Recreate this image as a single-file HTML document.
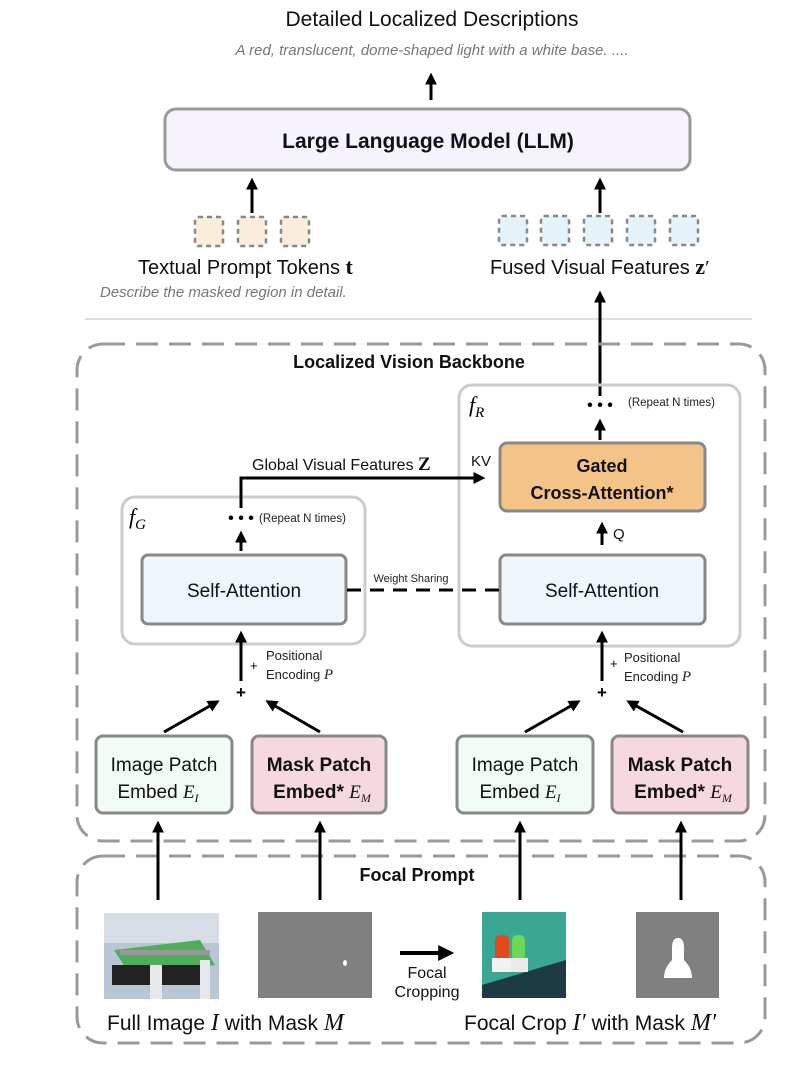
<!DOCTYPE html>
<html><head><meta charset="utf-8"><style>
html,body{margin:0;padding:0;background:#fff;}
svg{display:block;}
text{font-family:"Liberation Sans",sans-serif;}
.ser{font-family:"Liberation Serif",serif;font-style:italic;}
</style></head><body>
<svg width="803" height="1065" viewBox="0 0 803 1065" xmlns="http://www.w3.org/2000/svg">
<defs>
<marker id="ah" markerWidth="4" markerHeight="4" refX="2.2" refY="2" orient="auto" markerUnits="strokeWidth">
<path d="M0,0 L4,2 L0,4 z" fill="#000"/></marker>
</defs>
<rect width="803" height="1065" fill="#fff"/>

<text x="432" y="26" font-size="21" text-anchor="middle" fill="#111">Detailed Localized Descriptions</text>
<text x="432" y="55" font-size="15" font-style="italic" text-anchor="middle" fill="#777">A red, translucent, dome-shaped light with a white base. ....</text>
<line x1="431" y1="100" x2="431" y2="78" stroke="#000" stroke-width="3" marker-end="url(#ah)"/>

<rect x="165" y="109" width="525" height="61" rx="11" fill="#f7f3fd" stroke="#999" stroke-width="3"/>
<text x="428" y="148" font-size="21" font-weight="bold" text-anchor="middle" fill="#111">Large Language Model (LLM)</text>

<line x1="252" y1="213" x2="252" y2="183" stroke="#000" stroke-width="3" marker-end="url(#ah)"/>
<line x1="600" y1="213" x2="600" y2="183" stroke="#000" stroke-width="3" marker-end="url(#ah)"/>

<g stroke="#888" stroke-width="2.5" stroke-dasharray="5 4">
<rect x="195" y="217" width="28" height="29" rx="3" fill="#fbeedd"/>
<rect x="238" y="217" width="28" height="29" rx="3" fill="#fbeedd"/>
<rect x="281" y="217" width="28" height="29" rx="3" fill="#fbeedd"/>
<rect x="499" y="216" width="28" height="29" rx="3" fill="#e6f3fb"/>
<rect x="541" y="216" width="28" height="29" rx="3" fill="#e6f3fb"/>
<rect x="584" y="216" width="28" height="29" rx="3" fill="#e6f3fb"/>
<rect x="627" y="216" width="28" height="29" rx="3" fill="#e6f3fb"/>
<rect x="670" y="216" width="28" height="29" rx="3" fill="#e6f3fb"/>
</g>

<text x="138" y="274" font-size="20" fill="#111">Textual Prompt Tokens <tspan font-family="Liberation Serif" font-weight="bold" font-size="22">t</tspan></text>
<text x="490" y="274" font-size="20" fill="#111">Fused Visual Features <tspan font-family="Liberation Serif" font-weight="bold" font-size="22">z</tspan><tspan font-family="Liberation Serif" font-size="20">′</tspan></text>
<text x="100" y="297" font-size="15" font-style="italic" fill="#777">Describe the masked region in detail.</text>

<line x1="85" y1="319" x2="752" y2="319" stroke="#ddd" stroke-width="2"/>
<line x1="600" y1="396" x2="600" y2="296" stroke="#000" stroke-width="3" marker-end="url(#ah)"/>

<rect x="77" y="344" width="688" height="497" rx="26" fill="none" stroke="#999" stroke-width="3" stroke-dasharray="22 11"/>
<rect x="77" y="856" width="688" height="187" rx="26" fill="none" stroke="#999" stroke-width="3" stroke-dasharray="22 11"/>
<text x="409" y="368" font-size="18" font-weight="bold" text-anchor="middle" fill="#111">Localized Vision Backbone</text>
<text x="417" y="881" font-size="18" font-weight="bold" text-anchor="middle" fill="#111">Focal Prompt</text>

<rect x="459" y="385" width="281" height="261" rx="13" fill="none" stroke="#ccc" stroke-width="3"/>
<rect x="122" y="497" width="243" height="147" rx="13" fill="#fff" stroke="#ccc" stroke-width="3"/>
<text x="469" y="412" font-size="22" class="ser">f<tspan font-size="15" dy="5">R</tspan></text>
<text x="129" y="524" font-size="22" class="ser">f<tspan font-size="15" dy="5">G</tspan></text>

<text x="600" y="410" font-size="16" font-weight="bold" text-anchor="middle">• • •</text>
<text x="628" y="406" font-size="11.5" fill="#222">(Repeat N times)</text>
<line x1="600" y1="440" x2="600" y2="424" stroke="#000" stroke-width="3" marker-end="url(#ah)"/>

<rect x="500" y="443" width="205" height="68" rx="7" fill="#f3c388" stroke="#888" stroke-width="3"/>
<text x="602" y="472" font-size="18" font-weight="bold" text-anchor="middle" fill="#111">Gated</text>
<text x="602" y="499" font-size="18" font-weight="bold" text-anchor="middle" fill="#111">Cross-Attention*</text>

<text x="471" y="466" font-size="15" fill="#111">KV</text>
<polyline points="241,508 241,478 480,478" fill="none" stroke="#000" stroke-width="3" marker-end="url(#ah)"/>
<text x="252" y="470" font-size="16" fill="#111">Global Visual Features <tspan font-family="Liberation Serif" font-weight="bold" font-size="19">Z</tspan></text>

<text x="241" y="523" font-size="16" font-weight="bold" text-anchor="middle">• • •</text>
<text x="259" y="522" font-size="11.5" fill="#222">(Repeat N times)</text>
<line x1="241" y1="551" x2="241" y2="536" stroke="#000" stroke-width="3" marker-end="url(#ah)"/>

<line x1="602" y1="545" x2="602" y2="527" stroke="#000" stroke-width="3" marker-end="url(#ah)"/>
<text x="613" y="539" font-size="15" fill="#111">Q</text>

<rect x="142" y="555" width="204" height="69" rx="6" fill="#eff7fc" stroke="#888" stroke-width="3"/>
<rect x="500" y="555" width="205" height="69" rx="6" fill="#eff7fc" stroke="#888" stroke-width="3"/>
<text x="244" y="597" font-size="19" text-anchor="middle" fill="#111">Self-Attention</text>
<text x="602" y="597" font-size="19" text-anchor="middle" fill="#111">Self-Attention</text>
<line x1="347" y1="590" x2="499" y2="590" stroke="#000" stroke-width="3" stroke-dasharray="14 9"/>
<text x="411" y="582" font-size="11" text-anchor="middle" fill="#222">Weight Sharing</text>

<g>
<line x1="241" y1="681" x2="241" y2="636" stroke="#000" stroke-width="3" marker-end="url(#ah)"/>
<text x="241" y="698" font-size="17" font-weight="bold" text-anchor="middle">+</text>
<text x="250" y="670" font-size="13">+</text>
<text x="266" y="660" font-size="13" fill="#222">Positional</text>
<text x="266" y="679" font-size="13" fill="#222">Encoding <tspan class="ser" font-size="15">P</tspan></text>
<line x1="164" y1="732" x2="215" y2="703" stroke="#000" stroke-width="3" marker-end="url(#ah)"/>
<line x1="320" y1="732" x2="270" y2="703" stroke="#000" stroke-width="3" marker-end="url(#ah)"/>
</g>
<g>
<line x1="602" y1="681" x2="602" y2="636" stroke="#000" stroke-width="3" marker-end="url(#ah)"/>
<text x="602" y="698" font-size="17" font-weight="bold" text-anchor="middle">+</text>
<text x="610" y="668" font-size="13">+</text>
<text x="624" y="662" font-size="13" fill="#222">Positional</text>
<text x="624" y="681" font-size="13" fill="#222">Encoding <tspan class="ser" font-size="15">P</tspan></text>
<line x1="525" y1="732" x2="576" y2="703" stroke="#000" stroke-width="3" marker-end="url(#ah)"/>
<line x1="683" y1="732" x2="631" y2="703" stroke="#000" stroke-width="3" marker-end="url(#ah)"/>
</g>

<rect x="96" y="736" width="136" height="77" rx="7" fill="#f2fbf4" stroke="#888" stroke-width="3"/>
<rect x="252" y="736" width="134" height="77" rx="7" fill="#f6d9de" stroke="#888" stroke-width="3"/>
<rect x="457" y="736" width="136" height="77" rx="7" fill="#f2fbf4" stroke="#888" stroke-width="3"/>
<rect x="612" y="736" width="136" height="77" rx="7" fill="#f6d9de" stroke="#888" stroke-width="3"/>
<g font-size="19" fill="#111" text-anchor="middle">
<text x="164" y="771">Image Patch</text>
<text x="158" y="798">Embed <tspan class="ser">E</tspan><tspan class="ser" font-size="12" dy="4">I</tspan></text>
<text x="319" y="771" font-weight="bold">Mask Patch</text>
<text x="322" y="798" font-weight="bold">Embed* <tspan class="ser" font-weight="normal">E</tspan><tspan class="ser" font-weight="normal" font-size="12" dy="4">M</tspan></text>
<text x="525" y="771">Image Patch</text>
<text x="520" y="798">Embed <tspan class="ser">E</tspan><tspan class="ser" font-size="12" dy="4">I</tspan></text>
<text x="680" y="771" font-weight="bold">Mask Patch</text>
<text x="683" y="798" font-weight="bold">Embed* <tspan class="ser" font-weight="normal">E</tspan><tspan class="ser" font-weight="normal" font-size="12" dy="4">M</tspan></text>
</g>

<g stroke="#000" stroke-width="3">
<line x1="158" y1="900" x2="158" y2="826" marker-end="url(#ah)"/>
<line x1="320" y1="900" x2="320" y2="826" marker-end="url(#ah)"/>
<line x1="520" y1="900" x2="520" y2="826" marker-end="url(#ah)"/>
<line x1="681" y1="900" x2="681" y2="826" marker-end="url(#ah)"/>
</g>

<rect x="104" y="913" width="115" height="86" fill="#b9c6d6"/>
<rect x="104" y="913" width="115" height="30" fill="#d6dde6"/>
<polygon points="114,950 200,940 215,965 130,975" fill="#4fae5a"/>
<rect x="112" y="965" width="95" height="20" fill="#222"/>
<rect x="150" y="965" width="12" height="34" fill="#e6e8ec"/>
<rect x="200" y="960" width="10" height="39" fill="#e6e8ec"/>
<rect x="120" y="950" width="90" height="5" fill="#999"/>
<rect x="258" y="912" width="114" height="86" fill="#808080"/>
<ellipse cx="345" cy="963" rx="2" ry="3" fill="#fff"/>
<rect x="482" y="912" width="84" height="86" fill="#3aa793"/>
<polygon points="482,985 566,960 566,998 482,998" fill="#1d3b44"/>
<rect x="495" y="935" width="14" height="25" rx="5" fill="#e24a1e"/>
<rect x="512" y="935" width="13" height="25" rx="5" fill="#6cd85a"/>
<rect x="492" y="958" width="19" height="14" fill="#f2f2f2"/>
<rect x="511" y="958" width="17" height="14" fill="#eaeaea"/>
<rect x="636" y="912" width="83" height="86" fill="#808080"/>
<path d="M672,948 q0,-10 6,-10 q6,0 6,10 l0,12 q8,8 8,18 l-28,0 q0,-10 8,-18 z" fill="#fff"/>

<line x1="400" y1="953" x2="447" y2="953" stroke="#000" stroke-width="4" marker-end="url(#ah)"/>
<text x="427" y="978" font-size="16" text-anchor="middle" fill="#111">Focal</text>
<text x="427" y="997" font-size="16" text-anchor="middle" fill="#111">Cropping</text>

<text x="107" y="1030" font-size="21" fill="#111">Full Image <tspan class="ser" font-size="24">I</tspan> with Mask <tspan class="ser" font-size="24">M</tspan></text>
<text x="464" y="1030" font-size="21" fill="#111">Focal Crop <tspan class="ser" font-size="24">I′</tspan> with Mask <tspan class="ser" font-size="24">M′</tspan></text>
</svg>
</body></html>
